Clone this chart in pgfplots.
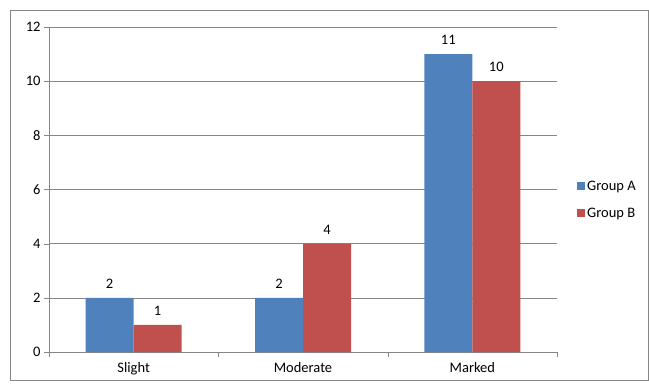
\documentclass[border=0pt]{standalone}
\usepackage{pgfplots}
\pgfplotsset{compat=1.18}
\usepackage{fontspec}
\setmainfont{Carlito}
\definecolor{barA}{HTML}{4F81BD}
\definecolor{barB}{HTML}{C0504D}
\definecolor{axgray}{HTML}{868686}
\newcommand{\cf}{\fontsize{14.5bp}{17bp}\selectfont}
\begin{document}
\begin{tikzpicture}[x=1bp,y=1bp]
\path[use as bounding box] (-49,-31) rectangle (600,352);
\draw[axgray] (-39,-28) rectangle (599,342);
\begin{axis}[
  at={(0,0)}, anchor=south west,
  scale only axis, width=508bp, height=325bp,
  xmin=-0.5, xmax=2.5, ymin=0, ymax=12,
  ybar=0pt, bar width=48bp,
  axis x line*=bottom, axis y line*=left,
  axis line style={-, axgray},
  ymajorgrids, grid style={axgray},
  ytick={0,2,...,12},
  tick align=outside, major tick length=5bp,
  tick style={axgray},
  xtick={-0.5,0.5,1.5,2.5}, xticklabels={,,,},
  extra x ticks={0,1,2},
  extra x tick labels={Slight,Moderate,Marked},
  extra x tick style={major tick length=0pt, xticklabel style={yshift=-7bp}},
  ticklabel style={font=\cf, black},
  /pgf/number format/assume math mode=true,
  nodes near coords,
  every node near coord/.append style={font=\cf, black, yshift=6bp},
  legend image code/.code={\fill[#1] (0bp,-4bp) rectangle (8bp,4bp);},
  legend style={at={(1,0.468)}, anchor=west, xshift=20bp, draw=none, fill=none,
    font=\cf, row sep=12bp, inner sep=0pt,
    nodes={inner xsep=2bp}},
  legend cell align=left,
]
\addplot[fill=barA, draw=none] coordinates {(0,2) (1,2) (2,11)};
\addplot[fill=barB, draw=none] coordinates {(0,1) (1,4) (2,10)};
\legend{Group A, Group B}
\end{axis}
\end{tikzpicture}
\end{document}
